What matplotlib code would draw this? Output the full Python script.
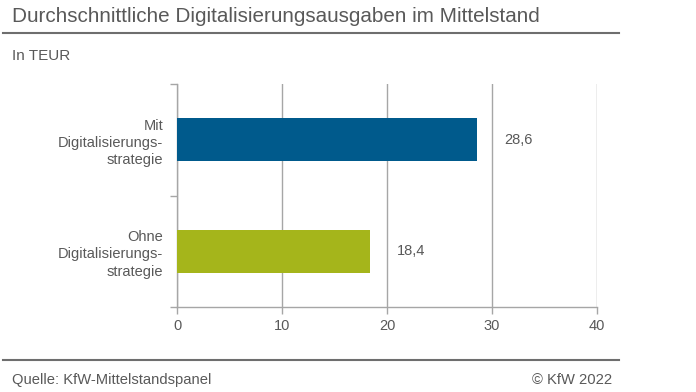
import numpy as np
import matplotlib
matplotlib.use("Agg")
from matplotlib import pyplot as plt

# Daten
categories = ["Ohne\nDigitalisierungs-\nstrategie", "Mit\nDigitalisierungs-\nstrategie"]
values = [18.4, 28.6]
value_labels = ["18,4", "28,6"]
bar_colors = ["#A5B51B", "#005A8C"]
x_ticks = [0, 10, 20, 30, 40]

title = "Durchschnittliche Digitalisierungsausgaben im Mittelstand"
unit = "In TEUR"
source = "Quelle: KfW-Mittelstandspanel"
copyright_text = "\u00a9 KfW 2022"

text_col = "#595959"
grid_col = "#A6A6A6"

plt.rcParams['font.family'] = ['Liberation Sans', 'DejaVu Sans']

fig = plt.figure(figsize=(6.96, 3.92), dpi=100)
W, H = 696, 392

# Achsen in Pixeln: x 177..597, y 84..307
ax = fig.add_axes([177 / W, 1 - 307 / H, 420 / W, 223 / H])
y = np.arange(len(categories))
ax.barh(y, values, height=0.39, color=bar_colors, zorder=3)
ax.set_ylim(-0.5, len(categories) - 0.5)
ax.set_xlim(0, 40)
ax.set_xticks(x_ticks)
ax.set_xticklabels([str(v) for v in x_ticks], fontsize=10.5, color=text_col)
ax.set_yticks([-0.5, 0.5, 1.5])
ax.set_yticklabels([])
ax.set_yticks(y, minor=True)
ax.set_yticklabels(categories, minor=True, fontsize=10.5, color=text_col,
                   linespacing=1.3)
ax.tick_params(axis='y', which='minor', length=0, pad=10)
ax.tick_params(axis='y', which='major', length=5, color=grid_col, width=1)
ax.tick_params(axis='x', length=5, color=grid_col, width=1, pad=4)
ax.grid(axis='x', color=grid_col, linewidth=1, zorder=0)
for s in ['top', 'right']:
    ax.spines[s].set_visible(False)
for s in ['left', 'bottom']:
    ax.spines[s].set_color(grid_col)
    ax.spines[s].set_linewidth(1)

for yi, v, lab in zip(y, values, value_labels):
    ax.annotate(lab, (v, yi), xytext=(27, 0), textcoords='offset pixels',
                va='center', ha='left', fontsize=10.5, color=text_col)

# Titel, Linien, Fußzeile
fig.text(12 / W, 1 - 22 / H, title, fontsize=14.9, color=text_col,
         ha='left', va='baseline')
fig.add_artist(plt.Line2D([3 / W, 619 / W], [1 - 33 / H, 1 - 33 / H],
                          color="#6E6E6E", linewidth=1.5))
fig.text(12 / W, 1 - 60 / H, unit, fontsize=11, color=text_col,
         ha='left', va='baseline')
fig.add_artist(plt.Line2D([3 / W, 619 / W], [1 - 360 / H, 1 - 360 / H],
                          color="#6E6E6E", linewidth=1.5))
fig.text(12 / W, 1 - 384 / H, source, fontsize=10.6, color=text_col,
         ha='left', va='baseline')
fig.text(612 / W, 1 - 384 / H, copyright_text, fontsize=10.6, color=text_col,
         ha='right', va='baseline')

fig.savefig("out.png", dpi=100)
